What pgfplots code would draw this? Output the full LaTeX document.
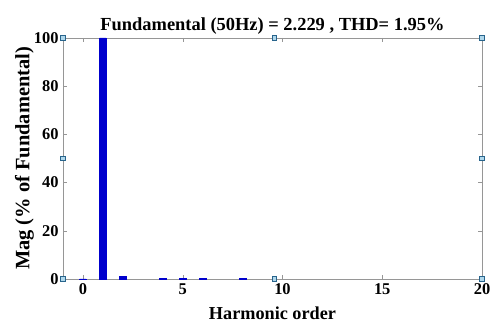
\documentclass[border=0pt]{standalone}
\usepackage{pgfplots}
\pgfplotsset{compat=1.18}
\usepackage{fontspec}
\setmainfont{Liberation Serif}
\definecolor{barblue}{RGB}{0,0,205}
\definecolor{axgray}{RGB}{150,150,150}
\definecolor{hfill}{RGB}{175,215,235}
\definecolor{hdraw}{RGB}{40,100,140}
\begin{document}
\begin{tikzpicture}
\useasboundingbox (-63bp,-48bp) rectangle (427bp,279bp);
\begin{axis}[
  scale only axis,
  width=419bp, height=241bp,
  xmin=-1, xmax=20, ymin=0, ymax=100,
  xtick={0,5,10,15,20}, ytick={0,20,40,60,80,100},
  tick align=inside,
  major tick length=4bp,
  axis line style={axgray},
  every tick/.style={axgray},
  tick label style={font=\fontsize{16.5}{18}\selectfont\bfseries, black},
  xticklabel style={yshift=-1bp},
  yticklabel style={xshift=-1bp},
  /pgf/number format/assume math mode=true,
  title={Fundamental (50Hz) = 2.229 , THD= 1.95\%},
  title style={font=\fontsize{18.5}{20}\selectfont\bfseries, yshift=-6bp},
  xlabel={Harmonic order},
  ylabel={Mag (\% of Fundamental)},
  xlabel style={font=\fontsize{18.3}{20}\selectfont\bfseries, yshift=-5bp},
  ylabel style={font=\fontsize{20.5}{22}\selectfont\bfseries, yshift=-7bp},
  clip=false,
]
\addplot[ybar, bar width=0.33, fill=barblue, draw=barblue] coordinates {
  (0,0.1) (1,100) (2,1.2) (4,0.25) (5,0.3) (6,0.25) (8,0.25)
};
\addplot[only marks, mark=square*, mark size=2.3bp, mark options={fill=hfill, draw=hdraw, line width=0.6bp}] coordinates {
  (-1,0) (-1,50) (-1,100) (9.6,0) (9.6,100) (20,0) (20,50) (20,100)
};
\end{axis}
\end{tikzpicture}
\end{document}
